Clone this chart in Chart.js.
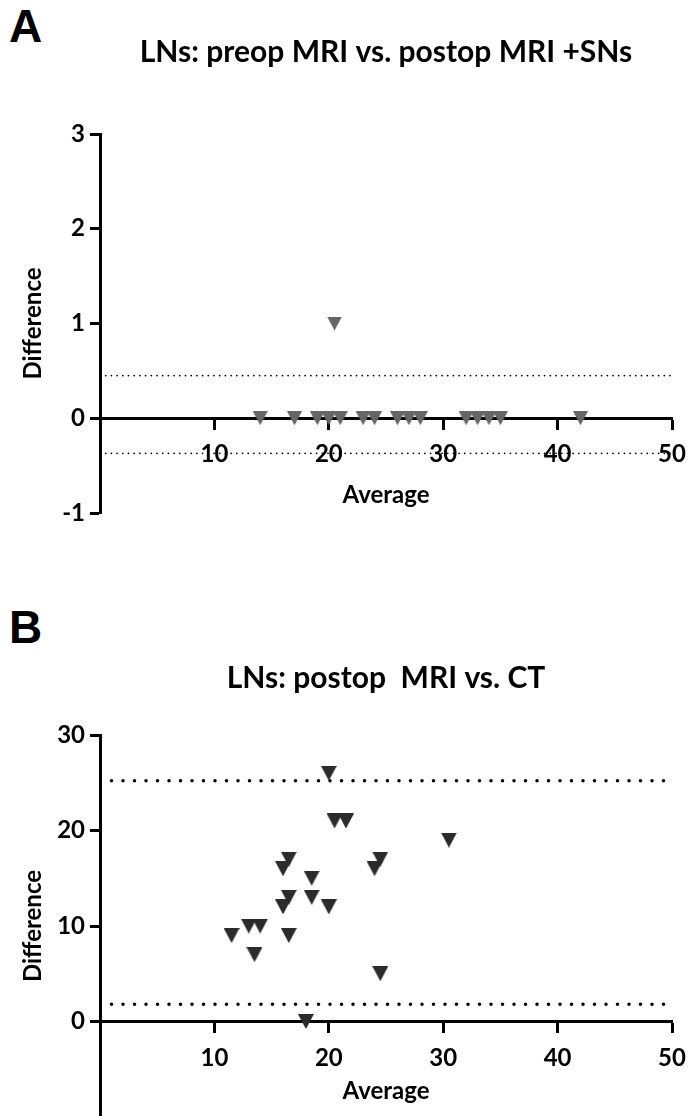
<!DOCTYPE html>
<html>
<head>
<meta charset="utf-8">
<script src="https://cdn.jsdelivr.net/npm/chart.js@4.4.0/dist/chart.umd.min.js"></script>
<style>
  body { margin: 0; background: #fff; width: 691px; height: 1116px; position: relative; overflow: hidden; }
  .letter { position: absolute; left: 9px; font-family: 'Liberation Sans', Arial, sans-serif; font-weight: bold; font-size: 46px; line-height: 46px; color: #000; }
  #chartA { position: absolute; left: 0; top: 0; }
  #chartB { position: absolute; left: 0; top: 560px; }
</style>
</head>
<body>
<div class="letter" style="top:3px">A</div>
<div class="letter" style="top:604px">B</div>
<canvas id="chartA" width="691" height="560"></canvas>
<canvas id="chartB" width="691" height="566"></canvas>
<script>
// Panel A - LNs: preop MRI vs. postop MRI +SNs (average vs difference)
const avgA  = [14, 17, 19, 20, 21, 23, 24, 26, 27, 28, 32, 33, 34, 35, 42, 20.5];
const diffA = [0, 0, 0, 0, 0, 0, 0, 0, 0, 0, 0, 0, 0, 0, 0, 1];
const limitsA = [0.45, -0.37];

// Panel B - LNs: postop MRI vs. CT
const avgB  = [20, 20.5, 21.5, 30.5, 16.5, 16, 24.5, 24, 18.5, 16.5, 16, 18.5, 20, 11.5, 13, 14, 16.5, 13.5, 24.5, 18];
const diffB = [26, 21, 21, 19, 17, 16, 17, 16, 15, 13, 12, 13, 12, 9, 10, 10, 9, 7, 5, 0];
const limitsB = [25.2, 1.8];

const xRange = [0, 50];

const FONT = 'Lato';
const tickFont = { family: FONT, weight: 'bold', size: 24 };

function downTriangle(w, h, color) {
  const c = document.createElement('canvas');
  c.width = w; c.height = h;
  const g = c.getContext('2d');
  g.fillStyle = color;
  g.beginPath();
  g.moveTo(0, 0);
  g.lineTo(w, 0);
  g.lineTo(w / 2, h);
  g.closePath();
  g.fill();
  return c;
}

function points(xs, ys) {
  return xs.map((x, i) => ({ x: x, y: ys[i] }));
}

function limitLine(y, width, dash) {
  return {
    data: [{ x: xRange[0], y: y }, { x: xRange[1], y: y }],
    showLine: true,
    pointRadius: 0,
    borderColor: '#000',
    borderWidth: width,
    borderDash: dash,
    borderCapStyle: 'round',
    order: 2
  };
}

// keep the plot area where the layout padding puts it
function noPadding(s) {
  s.paddingLeft = 0; s.paddingRight = 0;
  s.paddingTop = 0; s.paddingBottom = 0;
}

function axisStyle() {
  return {
    grid: { drawOnChartArea: false, tickLength: 10, tickWidth: 3, tickColor: '#000' },
    border: { display: true, color: '#000', width: 3 }
  };
}

function makeChart(id, cfg) {
  return new Chart(document.getElementById(id), {
    type: 'scatter',
    data: {
      datasets: [
        {
          data: points(cfg.avg, cfg.diff),
          pointStyle: cfg.marker,
          pointRadius: 8,
          clip: false,
          order: 1
        },
        limitLine(cfg.limits[0], cfg.dotWidth, cfg.dash),
        limitLine(cfg.limits[1], cfg.dotWidth, cfg.dash)
      ]
    },
    options: {
      responsive: false,
      animation: false,
      layout: { padding: { left: 0, right: 19, top: 0, bottom: cfg.padBottom } },
      plugins: {
        legend: { display: false },
        tooltip: { enabled: false },
        title: {
          display: true,
          text: cfg.title,
          fullSize: false,
          color: '#000',
          font: { family: FONT, weight: 'bold', size: 30 },
          padding: cfg.titlePad
        }
      },
      scales: {
        x: Object.assign(axisStyle(), {
          type: 'linear',
          position: { y: 0 },
          min: xRange[0], max: xRange[1],
          afterFit: noPadding,
          ticks: { stepSize: 10, padding: 12, color: '#000', font: tickFont,
                   callback: v => v === 0 ? null : v },
          title: { display: true, text: 'Average', color: '#000', font: tickFont,
                   padding: { top: cfg.xTitlePad, bottom: 0 } }
        }),
        y: Object.assign(axisStyle(), {
          min: cfg.yMin, max: cfg.yMax,
          afterFit: s => { s.width = 100; noPadding(s); },
          ticks: { stepSize: cfg.yStep, padding: 5, color: '#000', font: tickFont,
                   callback: v => v < cfg.yFirstLabel ? null : v },
          title: { display: true, text: 'Difference', color: '#000', font: tickFont,
                   padding: { top: 19, bottom: 0 } }
        })
      }
    }
  });
}

makeChart('chartA', {
  avg: avgA, diff: diffA, limits: limitsA,
  marker: downTriangle(15, 14, '#666666'),
  dotWidth: 1.8, dash: [0, 5.7],
  title: 'LNs: preop MRI vs. postop MRI +SNs',
  titlePad: { top: 34, bottom: 64 },
  padBottom: 47,
  xTitlePad: 0,
  yMin: -1, yMax: 3, yStep: 1, yFirstLabel: -1
});

makeChart('chartB', {
  avg: avgB, diff: diffB, limits: limitsB,
  marker: downTriangle(16, 15, '#2b2b2b'),
  dotWidth: 3.5, dash: [0, 11.5],
  title: 'LNs: postop  MRI vs. CT',
  titlePad: { top: 100, bottom: 39 },
  padBottom: 0,
  xTitlePad: -7,
  yMin: -10, yMax: 30, yStep: 10, yFirstLabel: 0
});
</script>
</body>
</html>
